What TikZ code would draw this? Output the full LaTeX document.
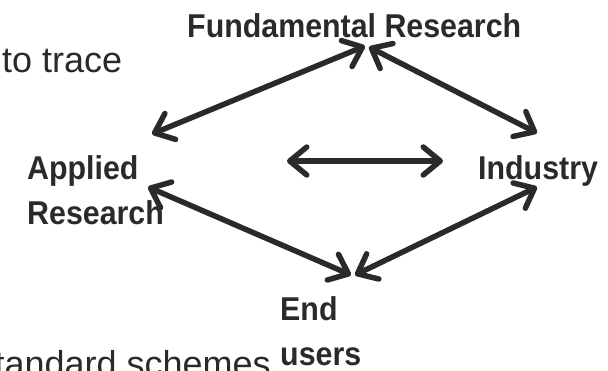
\documentclass[tikz,border=0pt]{standalone}
\usepackage{fontspec}
\setmainfont{Liberation Sans}
\newfontfamily\labfont[FakeStretch=0.92]{Liberation Sans}
\usetikzlibrary{arrows.meta}
\definecolor{ink}{HTML}{2A2A2A}
\tikzset{
  lab/.style={font=\labfont\bfseries\fontsize{33}{45}\selectfont, text=ink, inner sep=0pt, anchor=base west, align=left},
  body/.style={font=\fontsize{36}{44}\selectfont, text=ink, inner sep=0pt},
  link/.style={draw=ink, line width=5.5pt, line cap=round, line join=round,
    {Straight Barb[length=17pt,width=28pt,line cap=round,line join=round]}-{Straight Barb[length=17pt,width=28pt,line cap=round,line join=round]}}
}
\begin{document}
\begin{tikzpicture}[x=1pt,y=-1pt]
\useasboundingbox (0,0) rectangle (608,370);
\clip (0,0) rectangle (608,370);
% labels
\node[lab] (fund) at (187,37) {Fundamental Research};
\node[lab] (appl) at (27,224) {Applied\\Research};
\node[lab] (ind) at (478,179) {Industry};
\node[lab] (end) at (280,365) {End\\users};
% surrounding text
\node[body, anchor=base west] (trace) at (2,72) {to trace};
\node[body, anchor=base east] (std) at (271,376) {standard schemes};
% arrow end points
\coordinate (f1) at (365,46);
\coordinate (f2) at (369,47);
\coordinate (a1) at (152,134);
\coordinate (a2) at (148,187);
\coordinate (i1) at (537,133);
\coordinate (i2) at (537,187);
\coordinate (e1) at (351,275);
\coordinate (e2) at (355,275);
\coordinate (hl) at (287,161);
\coordinate (hr) at (443,161);
% connectors
\draw[link] (a1) -- (f1);
\draw[link] (f2) -- (i1);
\draw[link] (a2) -- (e1);
\draw[link] (e2) -- (i2);
\draw[link] (hl) -- (hr);
\end{tikzpicture}
\end{document}
